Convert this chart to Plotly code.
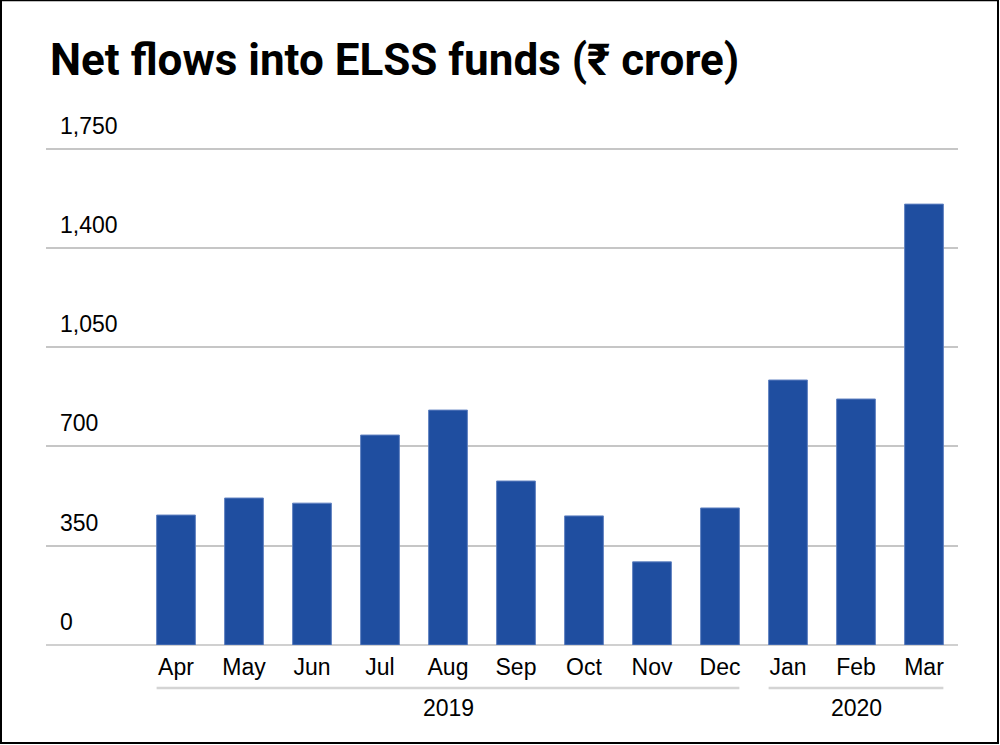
import plotly.graph_objects as go

# monthly net flows into ELSS funds, Rs crore
months = ["Apr", "May", "Jun", "Jul", "Aug", "Sep", "Oct", "Nov", "Dec", "Jan", "Feb", "Mar"]
flows = [458, 518, 500, 740, 828, 578, 455, 293, 483, 934, 867, 1554]
years = ["2019", "2020"]
year_spans = [(0, 8), (9, 11)]  # first and last month index of each year
y_ticks = [0, 350, 700, 1050, 1400, 1750]

bar_color = "#1f4ea0"
grid_color = "#c6c6c6"
label_font = dict(family="Liberation Sans, Arial, sans-serif", size=23, color="#000000")
title_font = dict(family="Roboto, Liberation Sans, sans-serif", size=44, color="#000000")

W, H = 1000, 745
y_top = 1780                    # a bit above the last tick so its gridline shows
zero_px, tick_px = 645, 149     # pixel rows of 0 and 1,750 in the picture
ph = (zero_px - tick_px) * y_top / y_ticks[-1]
ml, mr, mb = 46, 42, H - zero_px
mt = zero_px - ph
pw = W - ml - mr
bar_w = 0.57

fig = go.Figure()
fig.add_trace(go.Bar(
    x=list(range(len(months))), y=flows, width=bar_w,
    marker=dict(color=bar_color, line=dict(color="#5f80c0", width=1)),
    hoverinfo="x+y",
))

shapes = []
# year group lines under the month labels
for (a, b) in year_spans:
    shapes.append(dict(type="line", xref="x", yref="paper",
                       x0=a - bar_w / 2, x1=b + bar_w / 2,
                       y0=-43 / ph, y1=-43 / ph,
                       line=dict(color="#d4d4d4", width=2.5)))
# frame around the whole picture
shapes.append(dict(type="rect", xref="paper", yref="paper",
                   x0=(1 - ml) / pw, x1=(W - 2 - ml) / pw,
                   y0=-(H - 2 - zero_px) / ph, y1=(zero_px - 1) / ph,
                   line=dict(color="#000000", width=2), fillcolor="rgba(0,0,0,0)"))

annotations = []
for t in y_ticks:
    annotations.append(dict(x=12 / pw, y=t, xref="paper", yref="y",
                            text=f"{t:,}", showarrow=False,
                            xanchor="left", yanchor="bottom", yshift=8,
                            font=label_font))
for yr, (a, b) in zip(years, year_spans):
    annotations.append(dict(x=(a + b) / 2, y=-63 / ph, xref="x", yref="paper",
                            text=yr, showarrow=False,
                            xanchor="center", yanchor="middle",
                            font=label_font))
annotations.append(dict(x=2 / pw, y=(zero_px - 61) / ph, xref="paper", yref="paper",
                        text="<b>Net flows into ELSS funds (₹ crore)</b>", showarrow=False,
                        xanchor="left", yanchor="middle", font=title_font))

fig.update_layout(
    width=W, height=H,
    margin=dict(l=ml, r=mr, t=mt, b=mb),
    paper_bgcolor="white", plot_bgcolor="white",
    showlegend=False,
    shapes=shapes, annotations=annotations,
    xaxis=dict(
        tickmode="array", tickvals=list(range(len(months))), ticktext=months,
        range=[-0.5 - 96 / 68, len(months) - 0.5],
        showgrid=False, zeroline=False, showline=False, ticks="",
        tickfont=label_font, ticklabelstandoff=6,
    ),
    yaxis=dict(
        range=[0, y_top], tickvals=y_ticks, showticklabels=False,
        showgrid=True, gridcolor=grid_color, gridwidth=1.5,
        zeroline=True, zerolinecolor="#d0d0d0", zerolinewidth=2,
        ticks="", showline=False,
    ),
)

# page body has a default 8px margin; drop it so the frame sits on the window edge
fig.write_html("out.html", config={"displayModeBar": False},
               post_script="document.body.style.margin='0';")
